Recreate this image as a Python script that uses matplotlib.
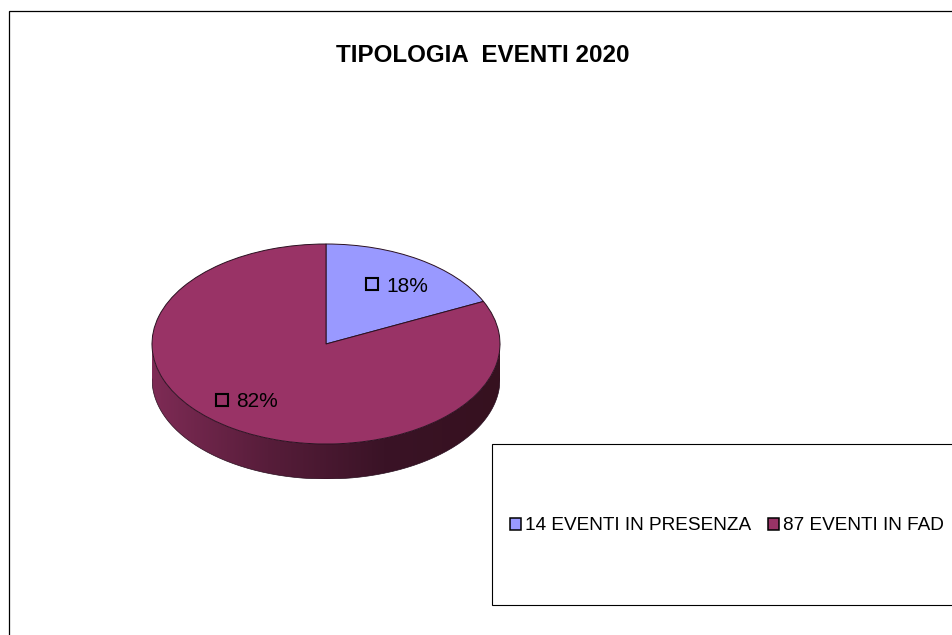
import numpy as np
import matplotlib
matplotlib.use('Agg')
import matplotlib.pyplot as plt
from matplotlib.colors import LinearSegmentedColormap
from matplotlib.patches import Patch, Polygon, Rectangle

plt.rcParams['font.family'] = ['Liberation Sans', 'DejaVu Sans']

title = 'TIPOLOGIA  EVENTI 2020'
labels = ['14 EVENTI IN PRESENZA', '87 EVENTI IN FAD']
values = [18, 82]
colors = ['#9999FF', '#993366']
W, H = 953, 635

fig = plt.figure(figsize=(W / 100, H / 100), dpi=100, facecolor='white')

# page in pixel coordinates: outer frame and legend box
page = fig.add_axes([0, 0, 1, 1])
page.set_xlim(0, W)
page.set_ylim(H, 0)
page.axis('off')
page.plot([9.5, 9.5, W], [H, 10.5, 10.5], color='black', lw=0.9, solid_joinstyle='miter')
page.add_patch(Rectangle((492.5, 443.5), 500, 161, fc='white', ec='black', lw=0.8))
page.text(482.5, 55, title, fontsize=17.4, fontweight='bold', ha='center', va='center', color='black')

# pie: ellipse 348x200 px plus 35 px of depth
left, top, pw, ph, depth = 152, 244, 348, 200, 35
ax = fig.add_axes([left / W, 1 - (top + ph + depth) / H, pw / W, (ph + depth) / H])
ax.patch.set_alpha(0)
wedges, _, autotexts = ax.pie(values, colors=colors, startangle=90, counterclock=False,
                              autopct='%.0f%%', pctdistance=0.72,
                              wedgeprops=dict(edgecolor='#2a1020', linewidth=0.7),
                              textprops=dict(fontsize=15, color='black'))
ax.set_aspect('auto')
ax.set_xlim(-1, 1)
d = depth / (ph / 2)
ax.set_ylim(-1 - d, 1)

# side wall with horizontal shading, under the top face
t = np.linspace(np.pi, 2 * np.pi, 200)
wall = np.vstack([np.column_stack([np.cos(t), np.sin(t)]),
                  np.column_stack([np.cos(t[::-1]), np.sin(t[::-1]) - d])])
shade = LinearSegmentedColormap.from_list('side', ['#7E2B55', '#571D3A', '#3A1326', '#36111F'])
img = ax.imshow(np.linspace(0, 1, 256)[None, :], cmap=shade, aspect='auto',
                extent=[-1, 1, -1 - d, 0], zorder=0.5)
clip = Polygon(wall, closed=True, transform=ax.transData, fc='none', ec='none')
ax.add_patch(clip)
img.set_clip_path(clip)
ax.set_xlim(-1, 1)
ax.set_ylim(-1 - d, 1)
ax.plot(np.cos(t), np.sin(t) - d, color='#2a1020', lw=0.5, zorder=0.6)

# data labels with their small square keys, nudged off the default spot (px)
nudges = [(4, 1), (-12, -5)]
for at, (nx, ny) in zip(autotexts, nudges):
    x, y = at.get_position()
    x += nx / (pw / 2)
    y -= ny / (ph / 2)
    at.set_position((x - 0.06, y - 0.02))
    at.set_ha('left')
    ax.plot(x - 0.145, y, marker='s', ms=8, mfc='none', mec='black', mew=1.5, ls='none', zorder=5)

# legend keys and texts, box is drawn on the page
handles = [Patch(fc=c, ec='black', lw=1.1) for c in colors]
fig.legend(handles, labels, loc='center left', bbox_to_anchor=(510 / W, 1 - 526 / H),
           ncol=2, frameon=False, fontsize=13.65, handlelength=0.58, handleheight=0.58,
           handletextpad=0.2, columnspacing=0.9, borderpad=0, borderaxespad=0)

fig.savefig('out.png', dpi=100)
